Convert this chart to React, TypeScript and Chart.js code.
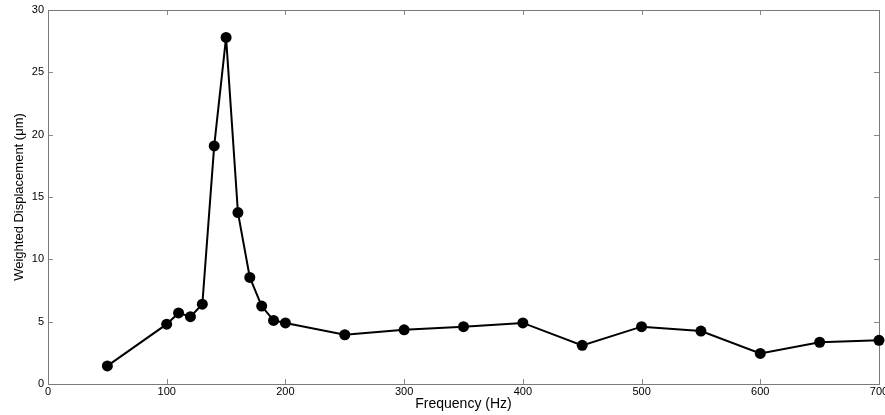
import React, { useEffect, useRef } from "react";
import { Chart, registerables } from "chart.js";

Chart.register(...registerables);

const frequencies = [50, 100, 110, 120, 130, 140, 150, 160, 170, 180, 190, 200, 250, 300, 350, 400, 450, 500, 550, 600, 650, 700];
const displacements = [1.45, 4.8, 5.7, 5.4, 6.4, 19.1, 27.8, 13.75, 8.55, 6.25, 5.1, 4.9, 3.95, 4.35, 4.6, 4.9, 3.1, 4.6, 4.25, 2.45, 3.35, 3.5];
const xTicks = [0, 100, 200, 300, 400, 500, 600, 700];
const yTicks = [0, 5, 10, 15, 20, 25, 30];
const xTitle = "Frequency (Hz)";
const yTitle = "Weighted Displacement (\u03bcm)";

const FONT = "'Liberation Sans', Arial, Helvetica, sans-serif";

const framePlugin = {
  id: "frame",
  beforeDatasetsDraw(chart: any) {
    const { ctx, chartArea, scales } = chart;
    const { left, right, top, bottom } = chartArea;
    const len = 5;
    ctx.save();
    ctx.strokeStyle = "#8a8a8a";
    ctx.lineWidth = 1;
    ctx.beginPath();
    for (const v of xTicks) {
      const x = Math.round(scales.x.getPixelForValue(v)) + 0.5;
      ctx.moveTo(x, bottom);
      ctx.lineTo(x, bottom - len);
      ctx.moveTo(x, top);
      ctx.lineTo(x, top + len);
    }
    for (const v of yTicks) {
      const y = Math.round(scales.y.getPixelForValue(v)) + 0.5;
      ctx.moveTo(left, y);
      ctx.lineTo(left + len, y);
      ctx.moveTo(right, y);
      ctx.lineTo(right - len, y);
    }
    ctx.stroke();
    ctx.strokeStyle = "#7a7a7a";
    ctx.strokeRect(Math.round(left) + 0.5, Math.round(top) + 0.5, Math.round(right - left), Math.round(bottom - top));
    ctx.restore();
  },
};

export default function App() {
  const ref = useRef<HTMLCanvasElement | null>(null);
  useEffect(() => {
    document.body.style.margin = "0";
    const canvas = ref.current;
    if (!canvas) return;
    const chart = new Chart(canvas, {
      type: "line",
      data: {
        datasets: [
          {
            data: frequencies.map((f, i) => ({ x: f, y: displacements[i] })),
            borderColor: "#000",
            backgroundColor: "#000",
            borderWidth: 2,
            pointRadius: 5.5,
            pointBackgroundColor: "#000",
            pointBorderColor: "#000",
            pointBorderWidth: 0,
            tension: 0,
            clip: false,
          } as any,
        ],
      },
      options: {
        responsive: false,
        animation: false,
        events: [],
        layout: { padding: { top: 10, right: 6, left: 0, bottom: 0 } },
        plugins: { legend: { display: false }, tooltip: { enabled: false } },
        scales: {
          x: {
            type: "linear",
            min: 0,
            max: 700,
            afterBuildTicks: (s: any) => {
              s.ticks = xTicks.map((v) => ({ value: v }));
            },
            afterFit: (s: any) => {
              s.height = 31;
              s.paddingLeft = 0;
              s.paddingRight = 0;
            },
            grid: { display: false, drawTicks: false },
            border: { display: false },
            ticks: {
              autoSkip: false,
              maxRotation: 0,
              padding: 1,
              color: "#000",
              font: { family: FONT, size: 11 },
            },
            title: {
              display: true,
              text: xTitle,
              color: "#000",
              font: { family: FONT, size: 14 },
              padding: { top: 0, bottom: 2 },
            },
          },
          y: {
            type: "linear",
            min: 0,
            max: 30,
            afterBuildTicks: (s: any) => {
              s.ticks = yTicks.map((v) => ({ value: v }));
            },
            afterFit: (s: any) => {
              s.width = 48;
              s.paddingTop = 0;
              s.paddingBottom = 0;
            },
            grid: { display: false, drawTicks: false },
            border: { display: false },
            ticks: {
              autoSkip: false,
              padding: 4,
              color: "#000",
              font: { family: FONT, size: 11 },
            },
            title: {
              display: true,
              text: yTitle,
              color: "#000",
              font: { family: FONT, size: 13 },
              padding: { top: 12, bottom: 0 },
            },
          },
        },
      },
      plugins: [framePlugin],
    });
    return () => chart.destroy();
  }, []);
  return (
    <div style={{ width: 885, height: 415, background: "#fff" }}>
      <canvas ref={ref} width={885} height={415} style={{ display: "block" }} />
    </div>
  );
}
